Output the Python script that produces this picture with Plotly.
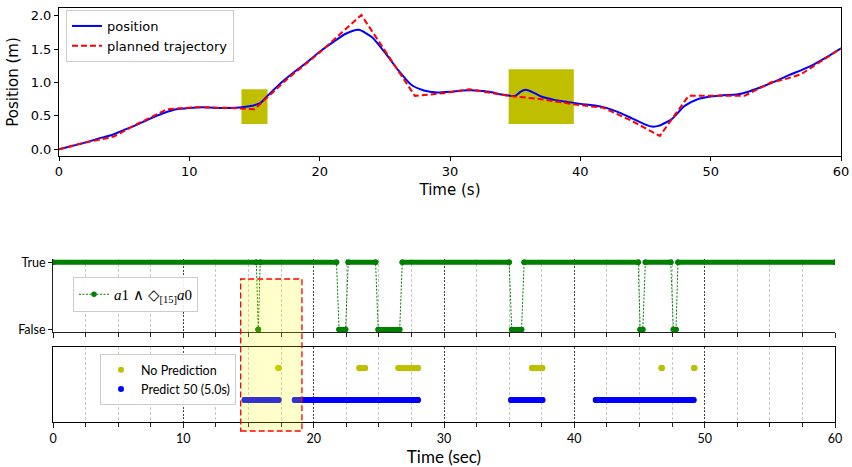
import plotly.graph_objects as go

W, H = 852, 467

# ---------------- top chart data ----------------
pos_t = [0, 1, 2, 3, 4, 5, 6, 7, 8, 9, 10, 11, 12, 13, 14, 15, 15.5, 16, 17, 18, 19, 20,
         21, 22, 23, 24, 25, 26, 27, 28, 29, 30, 31, 32, 33, 34, 35, 35.4, 35.8, 36.5, 37,
         38, 39, 40, 41, 42, 43, 44, 45, 45.5, 46, 47, 48, 49, 50, 51, 52, 53, 54, 55, 56,
         57, 58, 59, 60]
pos_v = [0.0, 0.05, 0.10, 0.16, 0.21, 0.29, 0.37, 0.46, 0.54, 0.60, 0.62, 0.63, 0.62, 0.62,
         0.63, 0.66, 0.70, 0.80, 0.99, 1.15, 1.30, 1.46, 1.60, 1.73, 1.79, 1.68, 1.45, 1.19,
         0.97, 0.88, 0.85, 0.86, 0.88, 0.88, 0.86, 0.82, 0.80, 0.86, 0.89, 0.84, 0.79, 0.74,
         0.71, 0.68, 0.66, 0.62, 0.55, 0.46, 0.37, 0.34, 0.35, 0.45, 0.65, 0.75, 0.79, 0.81,
         0.82, 0.87, 0.94, 1.02, 1.11, 1.19, 1.28, 1.39, 1.51]

plan_t = [0, 2, 4.2, 6, 8.3, 10.5, 13, 15, 17.5, 20, 23.2, 27.3, 29.5, 31.5, 34.5, 37,
          39.6, 41.8, 44, 46.1, 48.3, 52.6, 54.6, 55.7, 56.9, 60]
plan_v = [0.0, 0.10, 0.19, 0.38, 0.60, 0.63, 0.62, 0.60, 1.05, 1.45, 2.01, 0.80, 0.84,
          0.90, 0.80, 0.75, 0.67, 0.62, 0.42, 0.20, 0.80, 0.80, 1.00, 1.05, 1.12, 1.51]

box_x0 = [14.0, 34.5]
box_x1 = [16.0, 39.5]
box_y0 = [0.38, 0.38]
box_y1 = [0.90, 1.20]

# ---------------- bottom chart data ----------------
sig_start = [0, 15.75, 15.9, 21.95, 22.65, 24.95, 26.8, 35.2, 36.15, 45.05, 45.45, 47.6, 47.95]
sig_end = [15.6, 15.75, 21.75, 22.45, 24.75, 26.6, 35.0, 35.95, 44.9, 45.25, 47.4, 47.8, 60]
sig_val = [1, 0, 1, 0, 1, 0, 1, 0, 1, 0, 1, 0, 1]

nopred_start = [17.3, 23.5, 26.5, 36.75, 46.7, 49.2]
nopred_end = [17.3, 23.95, 28.0, 37.55, 46.7, 49.2]
pred_start = [14.7, 18.55, 35.15, 41.65]
pred_end = [17.3, 28.0, 37.55, 49.15]

win_x0, win_x1 = 14.4, 19.1

sig_label = "<i>a</i>1 ∧ ◇<sub>[15]</sub><i>a</i>0"
nopred_label = "No Prediction"
pred_label = "Predict 50 (5.0s)"

GREEN = "#008000"
YEL = "#bfbf00"
BLUE = "#0000ff"


def seg_xy(starts, ends, val):
    xs, ys = [], []
    for s, e, v in zip(starts, ends, val):
        xs += [s, e, None]
        ys += [v, v, None]
    return xs, ys


fig = go.Figure()

# top traces
fig.add_trace(go.Scatter(x=pos_t, y=pos_v, mode="lines", name="position",
                         line=dict(color=BLUE, width=2, shape="spline", smoothing=0.6),
                         xaxis="x", yaxis="y", legend="legend"))
fig.add_trace(go.Scatter(x=plan_t, y=plan_v, mode="lines", name="planned trajectory",
                         line=dict(color="#ff0000", width=2, dash="6px,3px"),
                         xaxis="x", yaxis="y", legend="legend"))

# signal
bx, by = seg_xy(sig_start, sig_end, sig_val)
fig.add_trace(go.Scatter(x=bx, y=by, mode="lines+markers", showlegend=False,
                         line=dict(color=GREEN, width=5), marker=dict(color=GREEN, size=5.5),
                         xaxis="x2", yaxis="y2"))
cx, cy = [], []
for s, e, v in zip(sig_start, sig_end, sig_val):
    cx += [s, e]
    cy += [v, v]
fig.add_trace(go.Scatter(x=cx, y=cy, mode="lines+markers", name=sig_label,
                         line=dict(color=GREEN, width=1, dash="2px,1.5px"),
                         marker=dict(color=GREEN, size=5.5),
                         xaxis="x2", yaxis="y2", legend="legend2"))

# prediction rows
nx, ny = seg_xy(nopred_start, nopred_end, [1] * len(nopred_start))
fig.add_trace(go.Scatter(x=nx, y=ny, mode="lines+markers", showlegend=False,
                         line=dict(color=YEL, width=6), marker=dict(color=YEL, size=6),
                         xaxis="x3", yaxis="y3"))
fig.add_trace(go.Scatter(x=nopred_start + nopred_end, y=[1] * (2 * len(nopred_start)),
                         mode="markers", name=nopred_label,
                         marker=dict(color=YEL, size=6),
                         xaxis="x3", yaxis="y3", legend="legend3"))
px_, py_ = seg_xy(pred_start, pred_end, [0] * len(pred_start))
fig.add_trace(go.Scatter(x=px_, y=py_, mode="lines+markers", showlegend=False,
                         line=dict(color=BLUE, width=6), marker=dict(color=BLUE, size=6),
                         xaxis="x3", yaxis="y3"))
fig.add_trace(go.Scatter(x=pred_start + pred_end, y=[0] * (2 * len(pred_start)),
                         mode="markers", name=pred_label,
                         marker=dict(color=BLUE, size=6),
                         xaxis="x3", yaxis="y3", legend="legend3"))

shapes = []
for x0, x1, y0, y1 in zip(box_x0, box_x1, box_y0, box_y1):
    shapes.append(dict(type="rect", xref="x", yref="y", x0=x0, x1=x1, y0=y0, y1=y1,
                       fillcolor=YEL, line=dict(width=0), layer="below"))
shapes.append(dict(type="rect", xref="x3", yref="paper", x0=win_x0, x1=win_x1,
                   y0=1 - 431 / H, y1=1 - 279 / H,
                   fillcolor="rgba(255,255,0,0.2)",
                   line=dict(color="#ff0000", width=1.3, dash="6px,3px"), layer="above"))

TOPF = "DejaVu Sans"
BOTF = "Lato"

xdom_top = [59 / W, 841 / W]
xdom_bot = [53 / W, 835 / W]

minor = dict(dtick=2.5, tick0=0, ticks="outside", ticklen=4, tickcolor="#222222",
             showgrid=True, griddash="3px,2px", gridcolor="#c8c8c8", gridwidth=0.8)

fig.update_layout(
    width=W, height=H,
    margin=dict(l=0, r=0, t=0, b=0, autoexpand=False),
    paper_bgcolor="white", plot_bgcolor="white",
    shapes=shapes,
    xaxis=dict(domain=xdom_top, anchor="y", range=[0, 60], tickmode="linear", tick0=0, dtick=10,
               ticks="outside", ticklen=4, tickcolor="black", showline=True, mirror=True,
               linecolor="black", linewidth=1, showgrid=False, zeroline=False, automargin=False,
               tickfont=dict(family=TOPF, size=13, color="black"),
               title=dict(text="Time (s)", font=dict(family=TOPF, size=15, color="black"),
                          standoff=6)),
    yaxis=dict(domain=[1 - 155.7 / H, 1 - 8.3 / H], anchor="x", range=[-0.096, 2.111],
               tickmode="linear", tick0=0, dtick=0.5, tickformat=".1f",
               ticks="outside", ticklen=4, tickcolor="black", showline=True, mirror=True,
               linecolor="black", linewidth=1, showgrid=False, zeroline=False, automargin=False,
               tickfont=dict(family=TOPF, size=13, color="black"),
               title=dict(text="Position (m)", font=dict(family=TOPF, size=15, color="black"),
                          standoff=8)),
    xaxis2=dict(domain=xdom_bot, anchor="y2", range=[0, 60], tickmode="linear", tick0=0, dtick=10,
                ticks="outside", ticklen=5, tickcolor="#222222", showticklabels=False,
                showline=True, mirror=False, linecolor="#222222", linewidth=1,
                showgrid=True, griddash="2px,1.5px", gridcolor="#444444", gridwidth=0.8,
                zeroline=False, minor=minor, automargin=False),
    yaxis2=dict(domain=[1 - 332.3 / H, 1 - 259 / H], anchor="x2", range=[-0.04, 1.05],
                tickmode="array", tickvals=[0, 1], ticktext=["False", "True"],
                ticks="outside", ticklen=4, tickcolor="#222222", showline=True, mirror=False,
                linecolor="#222222", linewidth=1, showgrid=False, zeroline=False, automargin=False,
                tickfont=dict(family=BOTF, size=12.5, color="black")),
    xaxis3=dict(domain=xdom_bot, anchor="y3", range=[0, 60], tickmode="linear", tick0=0, dtick=10,
                ticks="outside", ticklen=5, tickcolor="#222222",
                showline=True, mirror=True, linecolor="black", linewidth=1,
                showgrid=True, griddash="2px,1.5px", gridcolor="#444444", gridwidth=0.8,
                zeroline=False, minor=minor, automargin=False,
                tickfont=dict(family=BOTF, size=12.5, color="black"),
                title=dict(text="Time (sec)", font=dict(family=BOTF, size=17, color="black"),
                           standoff=4)),
    yaxis3=dict(domain=[1 - 422 / H, 1 - 347 / H], anchor="x3", range=[-0.69, 1.66],
                showticklabels=False, ticks="", showline=True, mirror=True, automargin=False,
                linecolor="black", linewidth=1, showgrid=False, zeroline=False),
    legend=dict(x=66 / W, y=1 - 10 / H, xanchor="left", yanchor="top",
                bgcolor="rgba(255,255,255,0.9)", bordercolor="#cccccc", borderwidth=1,
                font=dict(family=TOPF, size=13, color="black"), tracegroupgap=0),
    legend2=dict(x=73 / W, y=1 - 277 / H, xanchor="left", yanchor="top",
                 bgcolor="rgba(255,255,255,0.9)", bordercolor="#cccccc", borderwidth=1,
                 font=dict(family="Liberation Serif", size=15, color="black")),
    legend3=dict(x=100 / W, y=1 - 354 / H, xanchor="left", yanchor="top",
                 bgcolor="rgba(255,255,255,0.9)", bordercolor="#cccccc", borderwidth=1,
                 font=dict(family=BOTF, size=12.5, color="black")),
)

fig.write_html("out.html",
               config={"displayModeBar": False},
               post_script="document.body.style.margin='0';document.body.style.overflow='hidden';")
